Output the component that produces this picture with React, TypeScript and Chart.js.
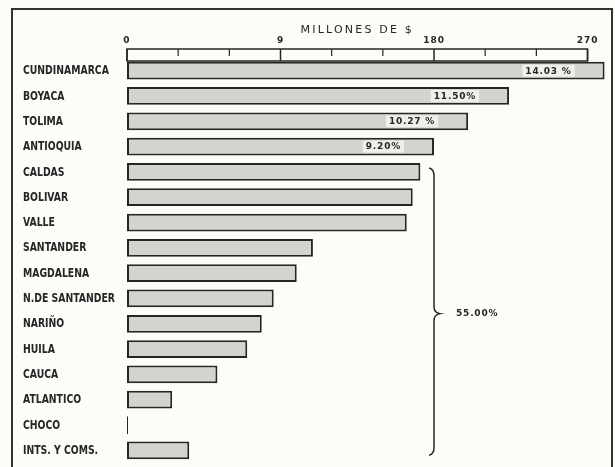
import { useEffect, useRef } from 'react';
import { Chart, registerables } from 'chart.js';

Chart.register(...registerables);

const departments = [
  'CUNDINAMARCA', 'BOYACA', 'TOLIMA', 'ANTIOQUIA', 'CALDAS', 'BOLIVAR', 'VALLE',
  'SANTANDER', 'MAGDALENA', 'N.DE SANTANDER', 'NARIÑO', 'HUILA', 'CAUCA',
  'ATLANTICO', 'CHOCO', 'INTS. Y COMS.',
];
const millions = [280, 224, 200, 180, 172, 167.5, 164, 109, 99.5, 86, 79, 70.5, 53, 26.5, 0.6, 36.5];
const tickValues = [0, 90, 180, 270];
const tickLabels = ['0', '9', '180', '270'];
const minorTicks = [30, 60, 120, 150, 210, 240];
const shareLabels = ['14.03 %', '11.50%', '10.27 %', '9.20%'];
const groupShare = '55.00%';
const groupFirst = 4;
const groupLast = 15;
const axisTitle = 'MILLONES DE $';

const INK = '#262626';

const decorPlugin = {
  id: 'decor',
  beforeDraw(chart: any) {
    const { ctx, width, height } = chart;
    ctx.save();
    ctx.fillStyle = '#fcfcf8';
    ctx.fillRect(0, 0, width, height);
    ctx.restore();
  },
  afterDraw(chart: any) {
    const { ctx } = chart;
    const xs = chart.scales.x;
    const ys = chart.scales.y;
    ctx.save();
    // outer frame
    ctx.strokeStyle = '#333';
    ctx.lineWidth = 2;
    ctx.strokeRect(12, 9, 600, 470);

    // category labels (condensed)
    ctx.fillStyle = INK;
    ctx.font = 'bold 12px "DejaVu Sans Condensed", "DejaVu Sans"';
    ctx.textAlign = 'left';
    ctx.textBaseline = 'middle';
    departments.forEach((d, i) => {
      const cy = ys.getPixelForValue(i);
      ctx.save();
      ctx.translate(23, cy + 0.5);
      ctx.scale(0.86, 1);
      ctx.fillText(d, 0, 0);
      ctx.restore();
    });

    // axis strip
    const x0 = xs.getPixelForValue(tickValues[0]);
    const xEnd = xs.getPixelForValue(tickValues[tickValues.length - 1]);
    const top = 49;
    const bottom = 61;
    ctx.lineWidth = 1.5;
    ctx.strokeStyle = INK;
    ctx.strokeRect(x0, top, xEnd - x0, bottom - top);
    for (const v of tickValues) {
      const px = xs.getPixelForValue(v);
      ctx.beginPath();
      ctx.moveTo(px, top);
      ctx.lineTo(px, bottom);
      ctx.stroke();
    }
    ctx.lineWidth = 1.2;
    for (const v of minorTicks) {
      const px = xs.getPixelForValue(v);
      ctx.beginPath();
      ctx.moveTo(px, top);
      ctx.lineTo(px, top + 7);
      ctx.stroke();
    }

    // tick labels
    ctx.fillStyle = INK;
    ctx.font = 'bold 9px "DejaVu Sans"';
    (ctx as any).letterSpacing = '1px';
    ctx.textAlign = 'center';
    ctx.textBaseline = 'middle';
    tickValues.forEach((v, i) => {
      ctx.fillText(tickLabels[i], xs.getPixelForValue(v), 41);
    });

    // title
    ctx.font = '11px "DejaVu Sans"';
    (ctx as any).letterSpacing = '2.2px';
    ctx.fillText(axisTitle, (x0 + xEnd) / 2, 30);

    // share labels inside bars
    ctx.font = 'bold 9px "DejaVu Sans"';
    (ctx as any).letterSpacing = '0.8px';
    ctx.textAlign = 'right';
    shareLabels.forEach((t, i) => {
      const endX = xs.getPixelForValue(millions[i]) - 33;
      const cy = ys.getPixelForValue(i);
      const w = ctx.measureText(t).width;
      ctx.fillStyle = 'rgba(245,245,240,0.85)';
      ctx.fillRect(endX - w - 3, cy - 6, w + 6, 12);
      ctx.fillStyle = INK;
      ctx.fillText(t, endX, cy + 0.5);
    });

    // brace
    const bx = xs.getPixelForValue(180);
    const bTop = ys.getPixelForValue(groupFirst) - 4;
    const bBot = ys.getPixelForValue(groupLast) + 5;
    const mid = (bTop + bBot) / 2 + 2;
    ctx.strokeStyle = INK;
    ctx.lineWidth = 1.5;
    ctx.beginPath();
    ctx.moveTo(bx - 5, bTop);
    ctx.quadraticCurveTo(bx, bTop + 1, bx, bTop + 8);
    ctx.lineTo(bx, mid - 7);
    ctx.quadraticCurveTo(bx, mid - 1, bx + 6, mid);
    ctx.quadraticCurveTo(bx, mid + 1, bx, mid + 7);
    ctx.lineTo(bx, bBot - 8);
    ctx.quadraticCurveTo(bx, bBot - 1, bx - 5, bBot);
    ctx.stroke();

    ctx.textAlign = 'left';
    ctx.fillStyle = INK;
    ctx.fillText(groupShare, bx + 22, mid);
    ctx.restore();
  },
};

export default function App() {
  const ref = useRef<HTMLCanvasElement | null>(null);

  useEffect(() => {
    if (!ref.current) return;
    const chart = new Chart(ref.current, {
      type: 'bar',
      data: {
        labels: departments,
        datasets: [
          {
            data: millions,
            backgroundColor: '#d4d4ce',
            borderColor: INK,
            borderWidth: 2,
            borderSkipped: false,
            barPercentage: 0.7,
            categoryPercentage: 1,
          },
        ],
      },
      options: {
        indexAxis: 'y',
        responsive: false,
        animation: false,
        layout: { padding: { top: 58, bottom: 4, left: 127, right: 7 } },
        plugins: {
          legend: { display: false },
          tooltip: { enabled: false },
          title: { display: false },
        },
        scales: {
          x: { display: false, min: 0, max: 282 },
          y: { display: false },
        },
      },
      plugins: [decorPlugin],
    });
    return () => chart.destroy();
  }, []);

  return (
    <div style={{ position: 'fixed', left: 0, top: 0, width: 615, height: 467 }}>
      <canvas ref={ref} width={615} height={467} style={{ display: 'block' }} />
    </div>
  );
}
